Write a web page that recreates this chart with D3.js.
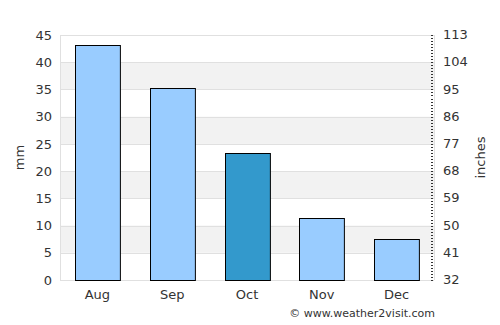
<!DOCTYPE html>
<html>
<head>
<meta charset="utf-8">
<script src="https://cdn.jsdelivr.net/npm/d3@7"></script>
<style>
  body { margin: 0; background: #fff; }
  text { font-family: "DejaVu Sans", sans-serif; }
</style>
</head>
<body>
<div id="chart"></div>
<script>
// monthly rainfall (mm)
const months = ['Aug', 'Sep', 'Oct', 'Nov', 'Dec'];
const rainfall = [43.2, 35.2, 23.3, 11.3, 7.5];
const highlight = 'Oct';
const leftTicks = [0, 5, 10, 15, 20, 25, 30, 35, 40, 45];
const rightTicks = [32, 41, 50, 59, 68, 77, 86, 95, 104, 113];

const w = 500, h = 325;
const margin = { top: 35, right: 66, bottom: 45, left: 60 };
const width = w - margin.left - margin.right;
const height = h - margin.top - margin.bottom;

const svg = d3.select('#chart').append('svg')
  .attr('width', w)
  .attr('height', h);

const chart = svg.append('g')
  .attr('transform', 'translate(' + margin.left + ',' + margin.top + ')');

const x = d3.scaleBand().domain(months).range([0, width]).paddingInner(0.4).paddingOuter(0.2);
const y = d3.scaleLinear().domain([0, 45]).range([height, 0]);
const y2 = d3.scaleLinear().domain([32, 113]).range([height, 0]);

// alternating bands
for (let i = 0; i < leftTicks.length - 1; i++) {
  if (i % 2 == 1) {
    chart.append('rect')
      .attr('x', 0).attr('width', width)
      .attr('y', y(leftTicks[i + 1]))
      .attr('height', y(leftTicks[i]) - y(leftTicks[i + 1]))
      .attr('fill', '#f2f2f2');
  }
}

// grid lines
chart.selectAll('line.grid')
  .data(leftTicks)
  .enter().append('line')
  .attr('class', 'grid')
  .attr('x1', 0).attr('x2', width)
  .attr('y1', d => Math.round(y(d)) + 0.5)
  .attr('y2', d => Math.round(y(d)) + 0.5)
  .attr('stroke', '#e0e0e0');

// frame sides
chart.append('line').attr('x1', 0.5).attr('x2', 0.5).attr('y1', 0).attr('y2', height).attr('stroke', '#e0e0e0');
chart.append('line').attr('x1', width + 0.5).attr('x2', width + 0.5).attr('y1', 0).attr('y2', height).attr('stroke', '#e0e0e0');

// bars
chart.selectAll('rect.bar')
  .data(months)
  .enter().append('rect')
  .attr('class', 'bar')
  .attr('x', d => Math.round(x(d)) + 0.5)
  .attr('width', x.bandwidth())
  .attr('y', (d, i) => Math.round(y(rainfall[i])) + 0.5)
  .attr('height', (d, i) => Math.round(y(0)) - Math.round(y(rainfall[i])))
  .attr('fill', d => d == highlight ? '#3399cc' : '#99ccff')
  .attr('stroke', '#000')
  .attr('stroke-width', 1);

// left axis
const left = chart.append('g')
  .call(d3.axisLeft(y).tickValues(leftTicks).tickSize(0).tickPadding(8));
left.select('.domain').remove();
left.selectAll('text').attr('font-size', 13).attr('fill', '#333').attr('font-family', 'DejaVu Sans');

// bottom axis
const bottom = chart.append('g')
  .attr('transform', 'translate(0,' + height + ')')
  .call(d3.axisBottom(x).tickSize(0).tickPadding(10));
bottom.select('.domain').remove();
bottom.selectAll('text').attr('font-size', 13).attr('fill', '#333').attr('font-family', 'DejaVu Sans');

// right axis: minor ticks every unit
const right = chart.append('g')
  .attr('transform', 'translate(' + width + ',0)');
right.selectAll('line.minor')
  .data(d3.range(32, 114))
  .enter().append('line')
  .attr('x1', -3).attr('x2', -1)
  .attr('y1', d => Math.round(y2(d)) + 0.5)
  .attr('y2', d => Math.round(y2(d)) + 0.5)
  .attr('stroke', '#333');
right.selectAll('text')
  .data(rightTicks)
  .enter().append('text')
  .attr('x', 9)
  .attr('y', d => y2(d))
  .attr('dy', '0.32em')
  .attr('font-size', 13)
  .attr('fill', '#333')
  .text(d => d);

// axis titles
svg.append('text')
  .attr('transform', 'translate(24,' + (margin.top + height / 2) + ') rotate(-90)')
  .attr('text-anchor', 'middle')
  .attr('font-size', 13)
  .attr('fill', '#333')
  .text('mm');
svg.append('text')
  .attr('transform', 'translate(485,' + (margin.top + height / 2) + ') rotate(-90)')
  .attr('text-anchor', 'middle')
  .attr('font-size', 13)
  .attr('fill', '#333')
  .text('inches');

svg.append('text')
  .attr('x', 435).attr('y', 317)
  .attr('text-anchor', 'end')
  .attr('font-size', 11)
  .attr('fill', '#333')
  .text('© www.weather2visit.com');
</script>
</body>
</html>
